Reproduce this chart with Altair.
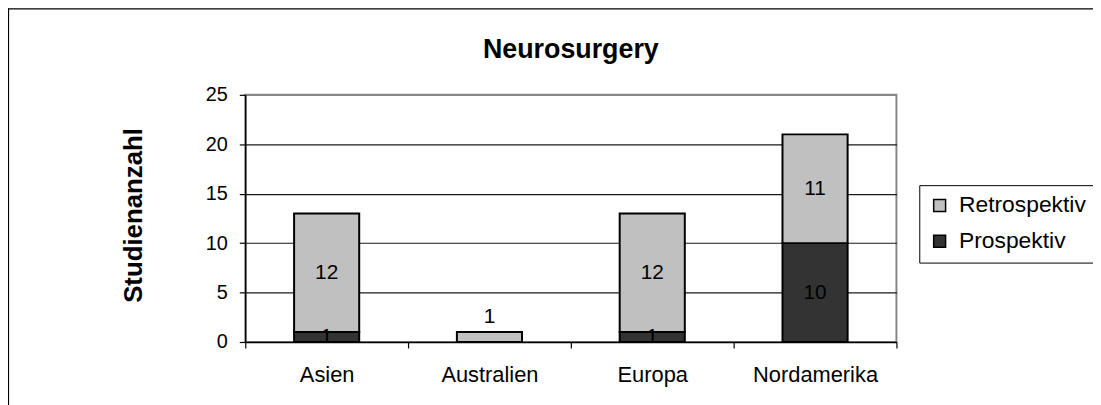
import altair as alt
import pandas as pd

FONT = "Liberation Sans"

chart_title = "Neurosurgery"
regions = ["Asien", "Australien", "Europa", "Nordamerika"]
prospektiv = [1, 0, 1, 10]
retrospektiv = [12, 1, 12, 11]
series = ["Retrospektiv", "Prospektiv"]
series_colors = ["#c0c0c0", "#333333"]
y_ticks = [0, 5, 10, 15, 20, 25]
outside_label_regions = ["Australien"]

rows = []
for r, p, q in zip(regions, prospektiv, retrospektiv):
    base = 0
    for s, v, order in (("Prospektiv", p, 0), ("Retrospektiv", q, 1)):
        if v > 0:
            rows.append(dict(region=r, series=s, value=v, start=base, end=base + v,
                             mid=base + v / 2, order=order,
                             outside=(r in outside_label_regions)))
        base += v
df = pd.DataFrame(rows)

x_enc = alt.X(
    "region:N", sort=regions,
    scale=alt.Scale(paddingInner=0, paddingOuter=0),
    axis=alt.Axis(title=None, tickBand="extent", labelAngle=0, labelFontSize=22,
                  labelFont=FONT, labelColor="black", labelPadding=17,
                  tickSize=6, tickColor="black", domainColor="black",
                  domainWidth=1.5, tickWidth=1.2, grid=False),
)

y_axis = alt.Axis(
    values=y_ticks, title="Studienanzahl", titleFont=FONT, titleFontSize=26,
    titleFontWeight="bold", titleColor="black", titleAngle=-90,
    titleX=-113, titleY=121, titleAlign="center", titleBaseline="middle",
    labelFont=FONT, labelFontSize=20, labelColor="black", labelPadding=12,
    tickSize=6, tickColor="black", tickWidth=1.2, domainColor="black", domainWidth=1.5,
    grid=True,
    gridColor={"condition": {"test": "datum.value === 25", "value": "#888888"},
               "value": "#1a1a1a"},
    gridWidth=1.2,
)

base = alt.Chart(df)

bars = base.mark_bar(stroke="black", strokeWidth=2,
                     width=alt.RelativeBandSize(0.4)).encode(
    x=x_enc,
    y=alt.Y("start:Q", scale=alt.Scale(domain=[0, 25], nice=False), axis=y_axis),
    y2="end:Q",
    color=alt.Color(
        "series:N",
        scale=alt.Scale(domain=series, range=series_colors),
        legend=alt.Legend(
            title=None, orient="none", legendX=679, legendY=91,
            strokeColor="black", padding=9, symbolType="square", symbolSize=144,
            symbolStrokeColor="black", symbolStrokeWidth=1.5,
            labelFont=FONT, labelFontSize=23, labelColor="black",
            rowPadding=12, labelOffset=8,
        ),
    ),
    order="order:Q",
)

inside_labels = base.transform_filter("!datum.outside").mark_text(
    font=FONT, fontSize=21, color="black", baseline="middle").encode(
    x=alt.X("region:N", sort=regions),
    y=alt.Y("mid:Q"),
    text="value:Q",
)

outside_labels = base.transform_filter("datum.outside").mark_text(
    font=FONT, fontSize=21, color="black", baseline="middle", dy=-15).encode(
    x=alt.X("region:N", sort=regions),
    y=alt.Y("end:Q"),
    text="value:Q",
)

deco_src = alt.Chart(pd.DataFrame({"title": [chart_title]}))
frame_left = deco_src.mark_rule(color="black", strokeWidth=1.2, clip=False).encode(
    x=alt.value(-238.5), y=alt.value(-87), y2=alt.value(320))
frame_top = deco_src.mark_rule(color="black", strokeWidth=1.2, clip=False).encode(
    x=alt.value(-239), x2=alt.value(860), y=alt.value(-86.5))
title_text = deco_src.mark_text(font=FONT, fontSize=27, fontWeight="bold", color="black",
                                align="center", baseline="alphabetic", clip=False).encode(
    x=alt.value(328), y=alt.value(-37), text="title:N")

chart = alt.layer(bars, inside_labels, outside_labels, frame_left, frame_top,
                  title_text).properties(
    width=656, height=249,
    autosize=alt.AutoSizeParams(type="none"),
    padding={"left": 239, "top": 86, "right": 198, "bottom": 62},
    background="white",
).configure_view(stroke="#888888", strokeWidth=2)

chart.save("out.html", embed_options={"renderer": "svg", "actions": False})
